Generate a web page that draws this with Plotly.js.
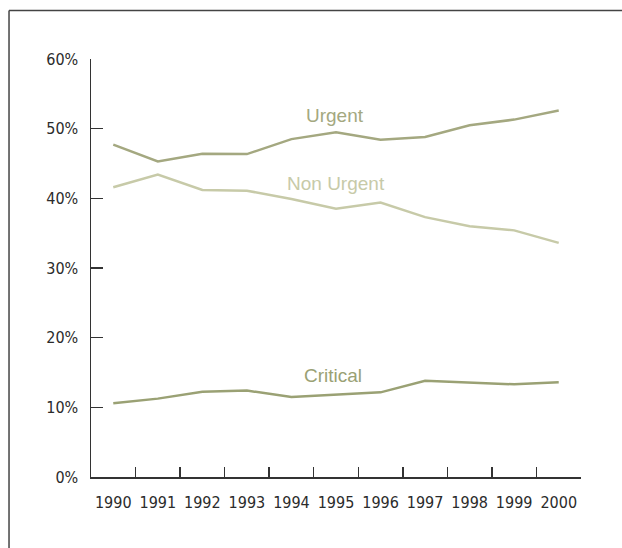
<!DOCTYPE html>
<html>
<head>
<meta charset="utf-8">
<script src="https://cdn.plot.ly/plotly-3.0.1.min.js"></script>
<style>
html,body{margin:0;padding:0;background:#fff;}
#chart{width:622px;height:548px;}
#chart .xtick text, #chart .ytick text{font-stretch:condensed !important;}
</style>
</head>
<body>
<div id="chart"></div>
<script>
const years = ['1990','1991','1992','1993','1994','1995','1996','1997','1998','1999','2000'];
const urgent = [47.7, 45.3, 46.4, 46.35, 48.5, 49.5, 48.4, 48.8, 50.5, 51.3, 52.6];
const nonUrgent = [41.6, 43.4, 41.2, 41.1, 39.9, 38.5, 39.4, 37.3, 36.0, 35.4, 33.6];
const critical = [10.6, 11.25, 12.25, 12.4, 11.5, 11.85, 12.15, 13.8, 13.5, 13.3, 13.6];
const yTickVals = [0, 10, 20, 30, 40, 50, 60];
const yTickText = ['0%', '10%', '20%', '30%', '40%', '50%', '60%'];
const seriesNames = ['Urgent', 'Non Urgent', 'Critical'];

const cUrgent = '#a4a880';
const cNon = '#c7caa8';
const cCrit = '#9aa174';

const traces = [
  {x: years, y: urgent, name: seriesNames[0], mode: 'lines', line: {color: cUrgent, width: 2.5}},
  {x: years, y: nonUrgent, name: seriesNames[1], mode: 'lines', line: {color: cNon, width: 2.5}},
  {x: years, y: critical, name: seriesNames[2], mode: 'lines', line: {color: cCrit, width: 2.5}}
];

const tickFont = {family: '"DejaVu Sans", sans-serif', size: 16, color: '#2b2b2b'};
const labelFont = {family: '"Liberation Sans", Arial, sans-serif', size: 19};

const layout = {
  width: 622, height: 548,
  margin: {l: 91, r: 41, t: 59, b: 71},
  paper_bgcolor: '#ffffff', plot_bgcolor: '#ffffff',
  showlegend: false,
  xaxis: {
    type: 'category', range: [-0.5, 10.5],
    showgrid: false, zeroline: false,
    showline: true, linecolor: '#333', linewidth: 1.5,
    ticks: 'inside', tickson: 'boundaries', ticklen: 10, tickwidth: 1.5, tickcolor: '#333',
    tickfont: tickFont, tickangle: 0, ticklabelstandoff: 10
  },
  yaxis: {
    range: [0, 60], tickvals: yTickVals, ticktext: yTickText,
    showgrid: false, zeroline: false,
    showline: true, linecolor: '#333', linewidth: 1.5,
    ticks: 'inside', ticklen: 12, tickwidth: 1.5, tickcolor: '#333',
    tickfont: tickFont, ticklabelstandoff: 8
  },
  annotations: [
    {x: 4.97, y: 51.9, xref: 'x', yref: 'y', text: seriesNames[0], showarrow: false, font: Object.assign({}, labelFont, {color: cUrgent})},
    {x: 5.0, y: 42.1, xref: 'x', yref: 'y', text: seriesNames[1], showarrow: false, font: Object.assign({}, labelFont, {color: cNon})},
    {x: 4.94, y: 14.6, xref: 'x', yref: 'y', text: seriesNames[2], showarrow: false, font: Object.assign({}, labelFont, {color: cCrit})}
  ],
  shapes: [
    {type: 'line', xref: 'paper', yref: 'paper', x0: -0.1673, x1: 1.1, y0: 1.116, y1: 1.116, line: {color: '#444', width: 1.5}},
    {type: 'line', xref: 'paper', yref: 'paper', x0: -0.1673, x1: -0.1673, y0: 1.116, y1: -0.2, line: {color: '#444', width: 1.5}}
  ]
};

Plotly.newPlot('chart', traces, layout, {displayModeBar: false, staticPlot: true});
</script>
</body>
</html>
